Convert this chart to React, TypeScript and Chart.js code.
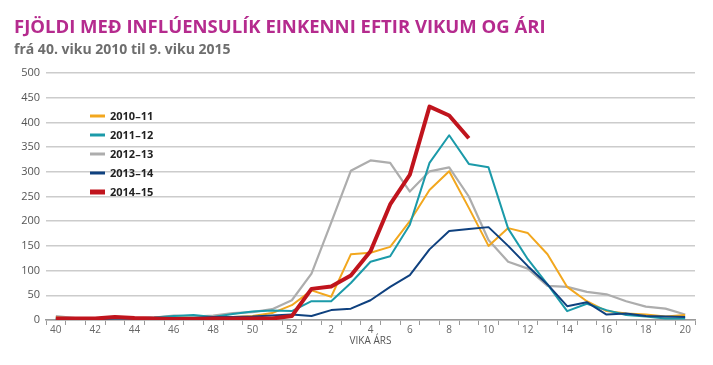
import React, { useEffect, useRef } from "react";
import { Chart, registerables } from "chart.js";

Chart.register(...registerables);

const weeks = [
  "40", "41", "42", "43", "44", "45", "46", "47", "48", "49", "50", "51", "52",
  "1", "2", "3", "4", "5", "6", "7", "8", "9", "10", "11", "12", "13", "14", "15", "16", "17", "18", "19", "20",
];

const seasonLabels = ["2010–11", "2011–12", "2012–13", "2013–14", "2014–15"];

const s2010 = [5, 3, 3, 5, 3, 3, 5, 4, 5, 6, 8, 14, 30, 60, 47, 133, 136, 148, 200, 263, 301, 227, 150, 186, 176, 133, 67, 38, 18, 13, 11, 7, 10];
const s2011 = [3, 2, 2, 3, 3, 5, 8, 10, 6, 12, 17, 19, 18, 38, 38, 75, 118, 129, 193, 318, 374, 316, 309, 185, 123, 72, 18, 33, 20, 10, 7, 3, 3];
const s2012 = [8, 4, 3, 4, 3, 5, 9, 7, 9, 14, 16, 22, 40, 94, 197, 302, 323, 318, 260, 301, 309, 250, 162, 118, 104, 69, 67, 57, 52, 38, 27, 23, 11];
const s2013 = [2, 2, 2, 3, 3, 3, 4, 4, 6, 6, 7, 9, 11, 8, 20, 23, 40, 67, 91, 143, 180, 184, 188, 150, 109, 72, 28, 36, 11, 13, 8, 7, 6];
const s2014 = [3, 3, 3, 6, 4, 3, 2, 2, 3, 3, 3, 3, 8, 63, 68, 90, 139, 234, 294, 432, 414, 368];

const yTicks = [0, 50, 100, 150, 200, 250, 300, 350, 400, 450, 500];

const titleText = "FJÖLDI MEÐ INFLÚENSULÍK EINKENNI EFTIR VIKUM OG ÁRI";
const subtitleText = "frá 40. viku 2010 til 9. viku 2015";
const xTitle = "VIKA ÁRS";

const colors = ["#f2a71e", "#1b9aa9", "#adadad", "#0f417f", "#c0141d"];
const widths = [2, 2, 2.2, 2, 4];
const legendWidths = [3, 3, 3, 3, 5];
const orders = [4, 3, 5, 2, 1];

const insideLegend = {
  id: "insideLegend",
  afterDraw(chart: any, _args: any, opts: any) {
    const { ctx, chartArea } = chart;
    ctx.save();
    chart.data.datasets.forEach((ds: any, i: number) => {
      const x = chartArea.left + opts.left;
      const y = chartArea.top + opts.top + i * opts.spacing;
      ctx.strokeStyle = ds.borderColor;
      ctx.lineWidth = opts.lineWidths[i];
      ctx.beginPath();
      ctx.moveTo(x, y);
      ctx.lineTo(x + opts.lineLength, y);
      ctx.stroke();
      ctx.fillStyle = "#222";
      ctx.font = "bold 11px 'Open Sans'";
      ctx.textBaseline = "middle";
      ctx.textAlign = "left";
      ctx.fillText(ds.label, x + opts.lineLength + 5, y + 0.5);
    });
    ctx.restore();
  },
};

export default function App() {
  const ref = useRef<HTMLCanvasElement>(null);
  useEffect(() => {
    document.body.style.margin = "0";
    const series = [s2010, s2011, s2012, s2013, s2014];
    const chart = new Chart(ref.current as HTMLCanvasElement, {
      type: "line",
      data: {
        labels: weeks,
        datasets: series.map((d, i) => ({
          label: seasonLabels[i],
          data: d,
          borderColor: colors[i],
          backgroundColor: colors[i],
          borderWidth: widths[i],
          pointRadius: 0,
          tension: 0,
          order: orders[i],
          borderJoinStyle: "round" as const,
        })),
      },
      plugins: [insideLegend],
      options: {
        animation: false,
        responsive: false,
        layout: { padding: { left: 14, right: 18, top: 0, bottom: 16 } },
        plugins: {
          legend: { display: false },
          tooltip: { enabled: false },
          title: {
            display: true,
            text: titleText,
            align: "start",
            color: "#b52b8e",
            font: { family: "'Open Sans'", size: 18.5, weight: "bold" },
            padding: { top: 17, bottom: 0 },
          },
          subtitle: {
            display: true,
            text: subtitleText,
            align: "start",
            color: "#6e6e6e",
            font: { family: "'Open Sans'", size: 14, weight: "bold" },
            padding: { top: 2.5, bottom: 14.5 },
          },
          insideLegend: {
            left: 44,
            top: 43,
            spacing: 19,
            lineLength: 15,
            lineWidths: legendWidths,
          },
        } as any,
        scales: {
          x: {
            offset: true,
            grid: {
              offset: true,
              drawOnChartArea: false,
              tickLength: 5,
              color: "#9a9a9a",
              lineWidth: 1,
            },
            border: { color: "#9a9a9a", width: 1.5 },
            ticks: {
              autoSkip: false,
              maxRotation: 0,
              padding: -1,
              color: "#666",
              font: { family: "'Open Sans'", size: 10 },
              callback: (_v: any, i: number) => (i % 2 === 0 ? weeks[i] : ""),
            },
            title: {
              display: true,
              text: xTitle,
              color: "#555",
              font: { family: "'Open Sans'", size: 10 },
              padding: { top: 0, bottom: 2 },
            },
          },
          y: {
            min: yTicks[0],
            max: yTicks[yTicks.length - 1],
            afterBuildTicks: (scale: any) => {
              scale.ticks = yTicks.map((v) => ({ value: v }));
            },
            afterFit: (scale: any) => {
              scale.width = 32;
            },
            grid: { drawTicks: false, color: "#cccccc", lineWidth: 1.5 },
            border: { display: false },
            ticks: {
              padding: 6,
              color: "#555",
              font: { family: "'Open Sans'", size: 11 },
            },
          },
        },
      },
    });
    return () => chart.destroy();
  }, []);
  return (
    <div style={{ width: 713, height: 365 }}>
      <canvas ref={ref} width={713} height={365} style={{ display: "block" }} />
    </div>
  );
}
